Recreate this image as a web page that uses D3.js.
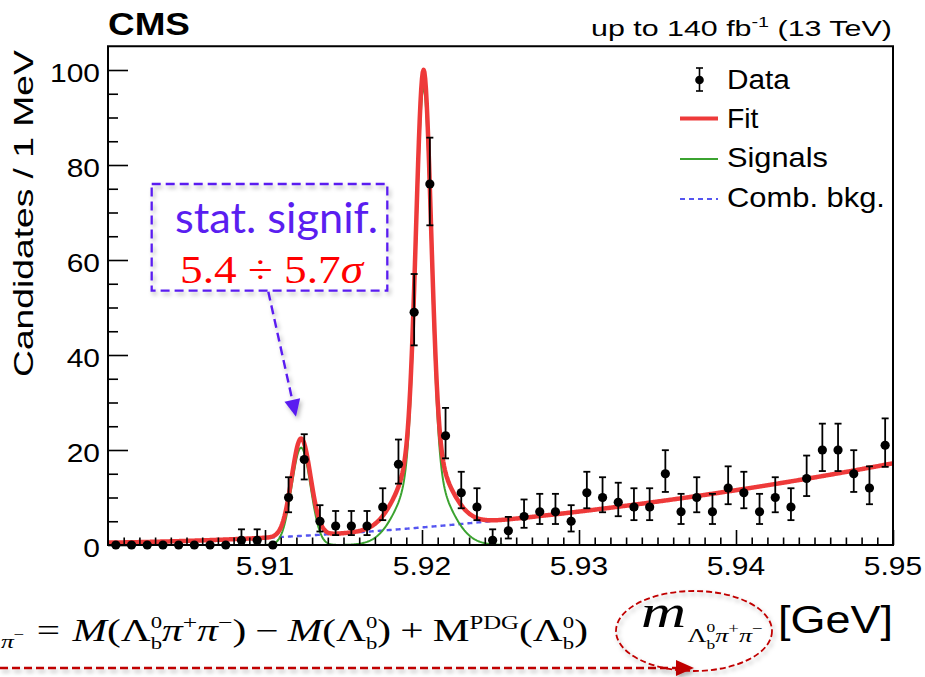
<!DOCTYPE html>
<html>
<head>
<meta charset="utf-8">
<script src="https://cdn.jsdelivr.net/npm/d3@7"></script>
<style>
  html, body { margin: 0; padding: 0; background: #fff; }
  svg { display: block; }
</style>
</head>
<body>
<svg id="chart" width="925" height="677"></svg>
<script>
// ---- data: candidates per 1 MeV bin, 5.900 - 5.950 GeV ----
const binLow = 5.900;
const binWidth = 0.001;
const counts = [0, 0, 0, 0, 0, 0, 0, 0, 1, 1,
                0, 10, 18, 5, 4, 4, 4, 8, 17, 49,
                76, 23, 11, 8, 1, 3, 6, 7, 7, 5,
                11, 10, 9, 8, 8, 15, 7, 10, 7, 12,
                11, 7, 10, 8, 14, 20, 20, 15, 12, 21];
const xTicks = [5.91, 5.92, 5.93, 5.94, 5.95];
const xTickLabels = ["5.91", "5.92", "5.93", "5.94", "5.95"];
const yTicks = [0, 20, 40, 60, 80, 100];
const yTickLabels = ["0", "20", "40", "60", "80", "100"];
const legendLabels = ["Data", "Fit", "Signals", "Comb. bkg."];

// ---- fit model parameters ----
const bkgCoef = [0.5, 0.044, 0.0058];          // polynomial in MeV above 5.900 GeV
const peak1 = { mass: 5.9123, sigma: 0.00060, height: 20.5 };
const peak2 = { mass: 5.9201, sigmaCore: 0.00047, heightCore: 79.8,
                sigmaTail: 0.00142, heightTail: 16.5 };

// ---- layout ----
const SANS = "'Liberation Sans', Arial, Helvetica, sans-serif";
const SERIF = "'Liberation Serif', 'Times New Roman', serif";
const CALI = "Lato, 'Open Sans', sans-serif";
const VIOLET = "#5a1ef0";
const DARKRED = "#c00000";
const FIT_RED = "#ee3a3a";
const SIG_GREEN = "#3ba330";
const BKG_BLUE = "#5555f0";

const plot = { left: 108, right: 893, top: 46.25, bottom: 545 };
const svg = d3.select("#chart");

const x = d3.scaleLinear().domain([5.900, 5.950]).range([plot.left, plot.right]);
const y = d3.scaleLinear().domain([0, 105]).range([plot.bottom, plot.top]);

const defs = svg.append("defs");
const shadow = defs.append("filter").attr("id", "shadow")
  .attr("x", "-20%").attr("y", "-20%").attr("width", "150%").attr("height", "160%");
shadow.append("feDropShadow").attr("dx", 2).attr("dy", 3).attr("stdDeviation", 2)
  .attr("flood-color", "#000").attr("flood-opacity", 0.28);
defs.append("clipPath").attr("id", "plotClip").append("rect")
  .attr("x", plot.left).attr("y", plot.top)
  .attr("width", plot.right - plot.left).attr("height", plot.bottom - plot.top);

// ---- helpers ----
function stretchAbout(sel, k, ox) {
  sel.attr("transform", `translate(${ox},0) scale(${k},1) translate(${-ox},0)`);
}
function fitX(sel, x0, x1) {
  const b = sel.node().getBBox();
  const k = (x1 - x0) / b.width;
  sel.attr("transform", `translate(${x0},0) scale(${k},1) translate(${-b.x},0)`);
}
// lays out a row of math pieces; "stack" places a piece at the x of the previous one
function mathRow(parent, items, x0, base, size) {
  const g = parent.append("g");
  let cursor = x0, lastStart = x0;
  items.forEach(it => {
    const fs = size * (it.s || 1);
    const t = g.append("text")
      .attr("font-family", it.font || SERIF)
      .attr("font-size", fs)
      .attr("font-style", it.it ? "italic" : "normal")
      .attr("fill", "#000")
      .text(it.t);
    const w = t.node().getComputedTextLength();
    let px;
    if (it.stack) {
      px = lastStart;
      cursor = Math.max(cursor, px + w);
    } else {
      px = cursor + (it.pre || 0) * size;
      lastStart = px;
      cursor = px + w + (it.gap || 0) * size;
    }
    t.attr("x", px).attr("y", base + (it.dy || 0) * size);
  });
  return g;
}
// Garwood (central 68.3%) Poisson interval
function poissonCdf(k, mu) {
  let term = Math.exp(-mu), sum = term;
  for (let i = 1; i <= k; i++) { term *= mu / i; sum += term; }
  return sum;
}
function solveMu(f, target, hi) {
  let lo = 0;
  for (let i = 0; i < 80; i++) {
    const mid = 0.5 * (lo + hi);
    if (f(mid) > target) lo = mid; else hi = mid;
  }
  return 0.5 * (lo + hi);
}
function poissonInterval(n) {
  const a = 0.158655;
  const hi = n + 10 * Math.sqrt(n + 1) + 10;
  const lower = n === 0 ? 0 : solveMu(mu => poissonCdf(n - 1, mu), 1 - a, hi);
  const upper = solveMu(mu => poissonCdf(n, mu), a, hi);
  return [lower, upper];
}

// ---- fit curves ----
const toMeV = m => (m - 5.900) * 1000;
const bkg = m => { const t = toMeV(m); return bkgCoef[0] + bkgCoef[1] * t + bkgCoef[2] * t * t; };
const gauss = (m, mu, s) => Math.exp(-0.5 * ((m - mu) / s) ** 2);
const signal = m =>
  peak1.height * gauss(m, peak1.mass, peak1.sigma) +
  peak2.heightCore * gauss(m, peak2.mass, peak2.sigmaCore) +
  peak2.heightTail * gauss(m, peak2.mass, peak2.sigmaTail);
const fit = m => bkg(m) + signal(m);

const grid = d3.range(0, 1001).map(i => 5.900 + i * 0.00005);
const curve = f => d3.line().x(m => x(m)).y(m => y(f(m)))(grid);

const curves = svg.append("g").attr("clip-path", "url(#plotClip)");
curves.append("path").attr("d", curve(bkg)).attr("fill", "none")
  .attr("stroke", BKG_BLUE).attr("stroke-width", 2.4).attr("stroke-dasharray", "5,4");
curves.append("path").attr("d", curve(signal)).attr("fill", "none")
  .attr("stroke", SIG_GREEN).attr("stroke-width", 2);
curves.append("path").attr("d", curve(fit)).attr("fill", "none")
  .attr("stroke", FIT_RED).attr("stroke-width", 4.5).attr("stroke-linejoin", "round");

// ---- data points with Poisson error bars ----
const points = counts.map((n, i) => {
  const [lo, hi] = poissonInterval(n);
  return { m: binLow + (i + 0.5) * binWidth, n, lo, hi };
});
const dataG = svg.append("g");
const withErr = points.filter(p => p.n > 0);
dataG.selectAll("line.err").data(withErr).join("line").attr("class", "err")
  .attr("x1", p => x(p.m)).attr("x2", p => x(p.m))
  .attr("y1", p => y(p.lo)).attr("y2", p => y(p.hi))
  .attr("stroke", "#000").attr("stroke-width", 1.8);
["lo", "hi"].forEach(k => {
  dataG.selectAll("line.cap" + k).data(withErr).join("line").attr("class", "cap" + k)
    .attr("x1", p => x(p.m) - 3.5).attr("x2", p => x(p.m) + 3.5)
    .attr("y1", p => y(p[k])).attr("y2", p => y(p[k]))
    .attr("stroke", "#000").attr("stroke-width", 1.8);
});
dataG.selectAll("circle").data(points).join("circle")
  .attr("cx", p => x(p.m)).attr("cy", p => y(p.n)).attr("r", 4.6).attr("fill", "#000");

// ---- axes ----
const xMinor = d3.range(1, 50).map(i => binLow + i * binWidth).filter(v => !xTicks.some(t => Math.abs(t - v) < 1e-6));
const yMinor = d3.range(5, 105, 5).filter(v => v % 20 !== 0);
const axisStyle = g => {
  g.select(".domain").remove();
  g.selectAll(".tick line").attr("stroke", "#000").attr("stroke-width", 1.6);
};
svg.append("g").attr("transform", `translate(0,${plot.bottom})`)
  .call(d3.axisBottom(x).tickValues(xMinor).tickSize(-7.5).tickFormat("")).call(axisStyle);
svg.append("g").attr("transform", `translate(0,${plot.bottom})`)
  .call(d3.axisBottom(x).tickValues(xTicks).tickSize(-15).tickFormat("")).call(axisStyle);
svg.append("g").attr("transform", `translate(${plot.left},0)`)
  .call(d3.axisLeft(y).tickValues(yMinor).tickSize(-10).tickFormat("")).call(axisStyle);
svg.append("g").attr("transform", `translate(${plot.left},0)`)
  .call(d3.axisLeft(y).tickValues(yTicks).tickSize(-20).tickFormat("")).call(axisStyle);

svg.append("rect").attr("x", plot.left).attr("y", plot.top)
  .attr("width", plot.right - plot.left).attr("height", plot.bottom - plot.top)
  .attr("fill", "none").attr("stroke", "#000").attr("stroke-width", 2);

// tick labels
xTicks.forEach((v, i) => {
  const t = svg.append("text").attr("x", x(v)).attr("y", 575.5)
    .attr("text-anchor", "middle").attr("font-family", SANS).attr("font-size", 25.6)
    .attr("fill", "#000").text(xTickLabels[i]);
  stretchAbout(t, 1.17, x(v));
});
yTicks.forEach((v, i) => {
  const t = svg.append("text").attr("x", 100).attr("y", y(v) + 11.6)
    .attr("text-anchor", "end").attr("font-family", SANS).attr("font-size", 25.6)
    .attr("fill", "#000").text(yTickLabels[i]);
  stretchAbout(t, 1.17, 100);
});

// y-axis title
const yTitleG = svg.append("g").attr("transform", "rotate(-90)");
const yTitle = yTitleG.append("text").attr("x", 0).attr("y", 33.5)
  .attr("font-family", SANS).attr("font-size", 28.5).attr("fill", "#000")
  .text("Candidates / 1 MeV");
fitX(yTitle, -377, -50);

// header texts
const cms = svg.append("text").attr("y", 35).attr("font-family", SANS)
  .attr("font-weight", "bold").attr("font-size", 30.5).attr("fill", "#000").text("CMS");
fitX(cms, 108, 190);
const lumi = svg.append("text").attr("y", 36).attr("font-family", SANS)
  .attr("font-size", 21.5).attr("fill", "#000");
lumi.append("tspan").text("up to 140 fb");
lumi.append("tspan").attr("font-size", 14).attr("dy", -9).text("-1");
lumi.append("tspan").attr("dy", 9).text(" (13 TeV)");
fitX(lumi, 591, 892);

// ---- legend ----
const legendRows = [80, 118.5, 159, 199];
const legendBase = [89, 128, 167, 207];
const legendEnds = [791, 759, 828, 885];
const lg = svg.append("g");
lg.append("line").attr("x1", 699.5).attr("x2", 699.5).attr("y1", 68).attr("y2", 91)
  .attr("stroke", "#000").attr("stroke-width", 1.6);
[68, 91].forEach(v => lg.append("line").attr("x1", 696).attr("x2", 703).attr("y1", v).attr("y2", v)
  .attr("stroke", "#000").attr("stroke-width", 1.6));
lg.append("circle").attr("cx", 699.5).attr("cy", legendRows[0]).attr("r", 4.3).attr("fill", "#000");
lg.append("line").attr("x1", 680).attr("x2", 718).attr("y1", legendRows[1]).attr("y2", legendRows[1])
  .attr("stroke", FIT_RED).attr("stroke-width", 4);
lg.append("line").attr("x1", 680).attr("x2", 718).attr("y1", legendRows[2]).attr("y2", legendRows[2])
  .attr("stroke", SIG_GREEN).attr("stroke-width", 2.2);
lg.append("line").attr("x1", 680).attr("x2", 718).attr("y1", legendRows[3]).attr("y2", legendRows[3])
  .attr("stroke", BKG_BLUE).attr("stroke-width", 2.2).attr("stroke-dasharray", "5,4");
legendLabels.forEach((s, i) => {
  const t = lg.append("text").attr("y", legendBase[i]).attr("font-family", SANS)
    .attr("font-size", 27).attr("fill", "#000").text(s);
  fitX(t, 727, legendEnds[i]);
});

// ---- significance annotation ----
const ann = svg.append("g");
ann.append("rect").attr("x", 151.7).attr("y", 184).attr("width", 235.6).attr("height", 106.7)
  .attr("fill", "none").attr("stroke", VIOLET).attr("stroke-width", 2.3)
  .attr("stroke-dasharray", "9,5").attr("filter", "url(#shadow)");
const sig1 = ann.append("text").attr("y", 233.3).attr("font-family", CALI)
  .attr("font-size", 42).attr("fill", VIOLET).text("stat. signif.");
fitX(sig1, 175, 378);
const sig2 = ann.append("text").attr("y", 282.7).attr("font-family", SERIF)
  .attr("font-size", 41).attr("fill", "#ff0000");
sig2.append("tspan").text("5.4 \u00f7 5.7");
sig2.append("tspan").attr("font-style", "italic").text("\u03c3");
fitX(sig2, 180, 365);

function arrow(g, x0, y0, x1, y1, color, width, dash, headLen, headHalf) {
  const dx = x1 - x0, dy = y1 - y0, len = Math.hypot(dx, dy);
  const ux = dx / len, uy = dy / len, px = -uy, py = ux;
  const bx = x1 - headLen * ux, by = y1 - headLen * uy;
  const a = g.append("g").attr("filter", "url(#shadow)");
  a.append("line").attr("x1", x0).attr("y1", y0).attr("x2", bx).attr("y2", by)
    .attr("stroke", color).attr("stroke-width", width).attr("stroke-dasharray", dash);
  a.append("polygon").attr("fill", color)
    .attr("points", [[x1, y1], [bx + headHalf * px, by + headHalf * py], [bx - headHalf * px, by - headHalf * py]].map(p => p.join(",")).join(" "));
}
arrow(ann, 268.3, 291.7, 296, 416.7, VIOLET, 2.4, "9,5", 17, 8);

// ---- mass definition below the axis ----
const low = svg.append("g");
arrow(low, 0, 668, 694, 668, DARKRED, 2.4, "8,4", 18, 8);
low.append("ellipse").attr("cx", 694).attr("cy", 631).attr("rx", 78).attr("ry", 40)
  .attr("fill", "none").attr("stroke", DARKRED).attr("stroke-width", 1.8)
  .attr("stroke-dasharray", "6,3").attr("filter", "url(#shadow)");

const gev = low.append("text").attr("y", 633).attr("font-family", SANS)
  .attr("font-size", 38).attr("fill", "#000").text("[GeV]");
fitX(gev, 778, 893);

const mSym = mathRow(low, [
  { t: "m", it: true },
  { t: "\u039b", s: 0.42, dy: 0.32, pre: 0.02 },
  { t: "0", s: 0.28, dy: 0.1 },
  { t: "b", s: 0.28, dy: 0.47, stack: true },
  { t: "\u03c0", s: 0.42, dy: 0.32, it: true },
  { t: "+", s: 0.3, dy: 0.14 },
  { t: "\u03c0", s: 0.42, dy: 0.32, it: true },
  { t: "\u2212", s: 0.3, dy: 0.14 }
], 0, 627, 46);
fitX(mSym, 641, 763);

const formula = mathRow(low, [
  { t: "\u03c0", s: 0.62, dy: 0.22, it: true },
  { t: "\u2212", s: 0.45, dy: -0.05 },
  { t: "=", pre: 0.3, gap: 0.3 },
  { t: "M", it: true },
  { t: "(" },
  { t: "\u039b" },
  { t: "0", s: 0.55, dy: -0.42 },
  { t: "b", s: 0.55, dy: 0.26, stack: true },
  { t: "\u03c0", it: true },
  { t: "+", s: 0.62, dy: -0.38 },
  { t: "\u03c0", it: true },
  { t: "\u2212", s: 0.62, dy: -0.38 },
  { t: ")" },
  { t: "\u2212", pre: 0.22, gap: 0.22 },
  { t: "M", it: true },
  { t: "(" },
  { t: "\u039b" },
  { t: "0", s: 0.55, dy: -0.42 },
  { t: "b", s: 0.55, dy: 0.26, stack: true },
  { t: ")" },
  { t: "+", pre: 0.22, gap: 0.22 },
  { t: "M" },
  { t: "PDG", s: 0.6, dy: -0.4 },
  { t: "(" },
  { t: "\u039b" },
  { t: "0", s: 0.55, dy: -0.42 },
  { t: "b", s: 0.55, dy: 0.26, stack: true },
  { t: ")" }
], 0, 641, 31);
fitX(formula, 1, 588);
</script>
</body>
</html>
